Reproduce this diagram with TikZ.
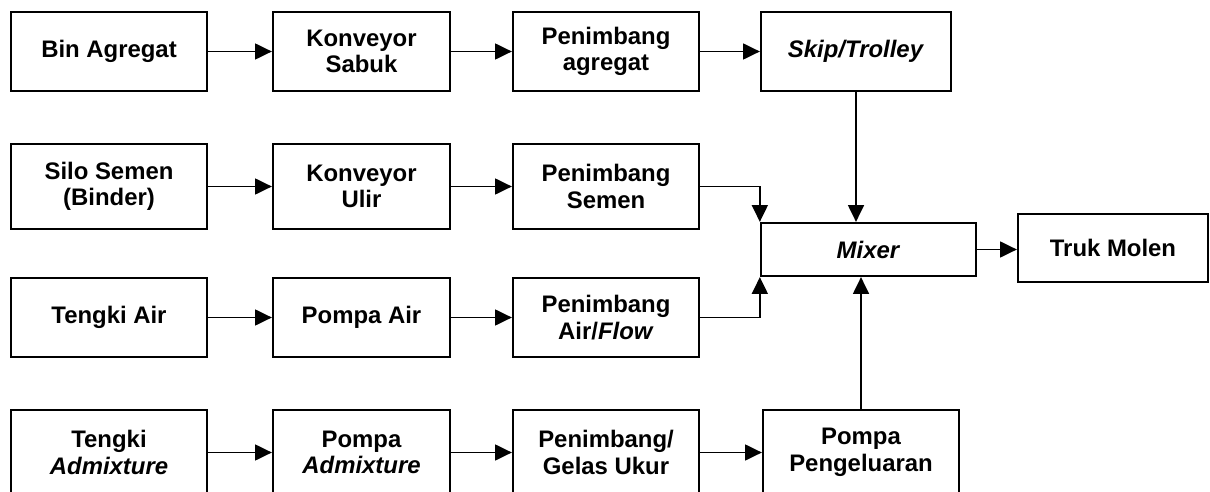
\documentclass[tikz,border=0pt]{standalone}
\usepackage{fontspec}
\setmainfont{Liberation Sans}
\usetikzlibrary{positioning,arrows.meta}

\begin{document}
\begin{tikzpicture}[x=0.025cm,y=-0.025cm,
	kotak/.style={
		draw,
		line width=1.6pt,
		align=center,
		inner sep=2pt,
		font=\fontsize{17}{18.8}\selectfont\bfseries
	},
	tinggiA/.style={minimum height=1.975cm},
	tinggiB/.style={minimum height=2.125cm},
	panah/.style={
		-{Triangle[length=0.42cm,width=0.4cm]},
		line width=1.1pt
	}
	]
	
	\useasboundingbox (0,0) rectangle (1210,492);
	\clip (0,0) rectangle (1210,492);
	
	% baris agregat
	\node[kotak, tinggiA, minimum width=4.9cm] at (109,51.5)
	(bin) {Bin Agregat};
	\node[kotak, tinggiA, minimum width=4.425cm] at (361.5,51.5)
	(kSabuk) {Konveyor\\Sabuk};
	\node[kotak, tinggiA, minimum width=4.65cm] at (606,51.5)
	(pAgregat) {Penimbang\\agregat};
	\node[kotak, tinggiA, minimum width=4.75cm] at (856,51.5)
	(skip) {\textit{Skip/Trolley}};
	
	% baris semen
	\node[kotak, tinggiB, minimum width=4.9cm] at (109,186.5)
	(silo) {Silo Semen\\(Binder)};
	\node[kotak, tinggiB, minimum width=4.425cm] at (361.5,186.5)
	(kUlir) {Konveyor\\Ulir};
	\node[kotak, tinggiB, minimum width=4.65cm] at (606,186.5)
	(pSemen) {Penimbang\\Semen};
	
	% baris air
	\node[kotak, tinggiA, minimum width=4.9cm] at (109,317.5)
	(tAir) {Tengki Air};
	\node[kotak, tinggiA, minimum width=4.425cm] at (361.5,317.5)
	(pompaAir) {Pompa Air};
	\node[kotak, tinggiA, minimum width=4.65cm] at (606,317.5)
	(pAir) {Penimbang\\Air/\textit{Flow}};
	
	% baris admixture
	\node[kotak, tinggiB, minimum width=4.9cm] at (109,452.5)
	(tAdm) {Tengki\\\textit{Admixture}};
	\node[kotak, tinggiB, minimum width=4.425cm] at (361.5,452.5)
	(pompaAdm) {Pompa\\\textit{Admixture}};
	\node[kotak, tinggiB, minimum width=4.65cm] at (606,452.5)
	(pGelas) {Penimbang/\\Gelas Ukur};
	\node[kotak, tinggiB, minimum width=4.9cm] at (861,452.5)
	(pPeng) {Pompa\\Pengeluaran};
	
	% mixer dan truk
	\node[kotak, minimum width=5.375cm, minimum height=1.325cm] at (868.5,249.5)
	(mixer) {\textit{Mixer}};
	\node[kotak, minimum width=4.75cm, minimum height=1.7cm] at (1113,248)
	(truk) {Truk Molen};
	
	\draw[panah] (bin) -- (kSabuk);
	\draw[panah] (kSabuk) -- (pAgregat);
	\draw[panah] (pAgregat) -- (skip);
	\draw[panah] (silo) -- (kUlir);
	\draw[panah] (kUlir) -- (pSemen);
	\draw[panah] (tAir) -- (pompaAir);
	\draw[panah] (pompaAir) -- (pAir);
	\draw[panah] (tAdm) -- (pompaAdm);
	\draw[panah] (pompaAdm) -- (pGelas);
	\draw[panah] (pGelas) -- (pPeng);
	
	\draw[panah] (pSemen.east) -| (mixer.north west);
	\draw[panah] (pAir.east) -| (mixer.south west);
	\draw[panah] (skip.south) -- (skip.south |- mixer.north);
	\draw[panah] (pPeng.north) -- (pPeng.north |- mixer.south);
	\draw[panah] (mixer.east) -- (mixer.east -| truk.west);
	
\end{tikzpicture}
\end{document}
